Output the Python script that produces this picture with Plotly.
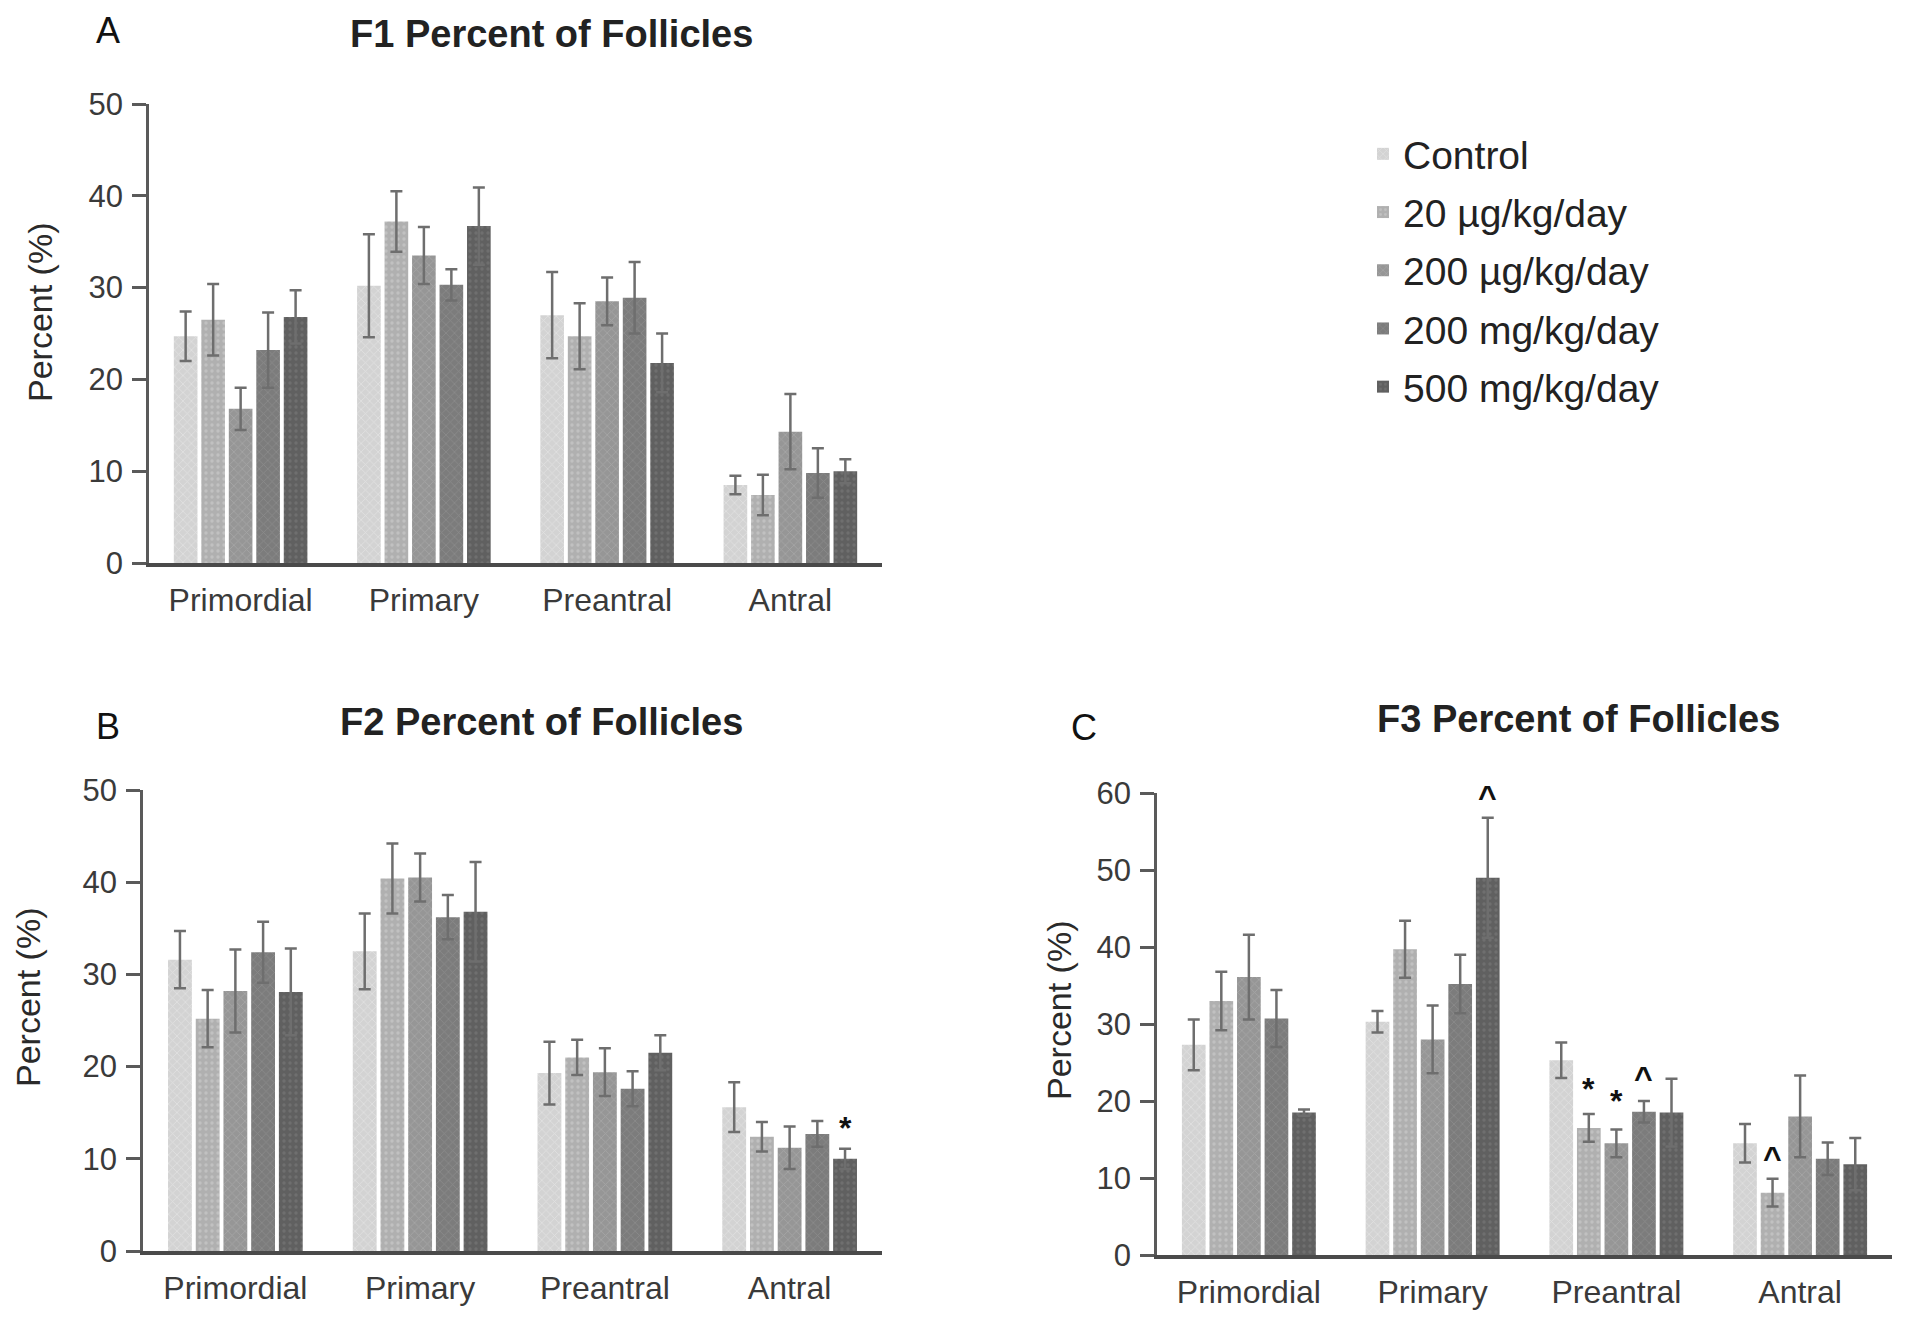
import plotly.graph_objects as go

categories = ["Primordial", "Primary", "Preantral", "Antral"]
groups = ["Control", "20 µg/kg/day", "200 µg/kg/day", "200 mg/kg/day", "500 mg/kg/day"]
colors = ["#d3d3d3", "#b0b0b0", "#969696", "#7c7c7c", "#606060"]
pattern_fg = ["#efefef", "#d2d2d2", "#b6b6b6", "#9a9a9a", "#7e7e7e"]
pattern_shape = ["x", ".", "x", "x", "."]

# F1 (panel A): mean per group for Primordial, Primary, Preantral, Antral
f1_control = [24.7, 30.2, 27.0, 8.5]
f1_20ug = [26.5, 37.2, 24.7, 7.4]
f1_200ug = [16.8, 33.5, 28.5, 14.3]
f1_200mg = [23.2, 30.3, 28.9, 9.8]
f1_500mg = [26.8, 36.7, 21.8, 10.0]
f1_control_err = [2.7, 5.6, 4.7, 1.0]
f1_20ug_err = [3.9, 3.3, 3.6, 2.2]
f1_200ug_err = [2.3, 3.1, 2.6, 4.1]
f1_200mg_err = [4.1, 1.7, 3.9, 2.7]
f1_500mg_err = [2.9, 4.2, 3.2, 1.3]

# F2 (panel B)
f2_control = [31.6, 32.5, 19.3, 15.6]
f2_20ug = [25.2, 40.4, 21.0, 12.4]
f2_200ug = [28.2, 40.5, 19.4, 11.2]
f2_200mg = [32.4, 36.2, 17.6, 12.7]
f2_500mg = [28.1, 36.8, 21.5, 10.0]
f2_control_err = [3.1, 4.1, 3.4, 2.7]
f2_20ug_err = [3.1, 3.8, 1.9, 1.6]
f2_200ug_err = [4.5, 2.6, 2.6, 2.3]
f2_200mg_err = [3.3, 2.4, 1.9, 1.4]
f2_500mg_err = [4.7, 5.4, 1.9, 1.1]

# F3 (panel C)
f3_control = [27.3, 30.3, 25.3, 14.5]
f3_20ug = [33.0, 39.7, 16.5, 8.1]
f3_200ug = [36.1, 28.0, 14.5, 18.0]
f3_200mg = [30.7, 35.2, 18.6, 12.5]
f3_500mg = [18.5, 49.0, 18.5, 11.8]
f3_control_err = [3.3, 1.4, 2.3, 2.5]
f3_20ug_err = [3.8, 3.7, 1.8, 1.8]
f3_200ug_err = [5.5, 4.4, 1.8, 5.3]
f3_200mg_err = [3.7, 3.8, 1.4, 2.1]
f3_500mg_err = [0.4, 7.8, 4.4, 3.4]

# significance marks: (panel, category, group index, symbol, y value)
sig_marks = [
    ("B", "Antral", 4, "*", 13.3),
    ("C", "Primary", 4, "^", 59.5),
    ("C", "Preantral", 1, "*", 21.6),
    ("C", "Preantral", 2, "*", 20.0),
    ("C", "Preantral", 3, "^", 23.0),
    ("C", "Antral", 1, "^", 12.6),
]

panels = {
    "A": dict(means=[f1_control, f1_20ug, f1_200ug, f1_200mg, f1_500mg],
              errs=[f1_control_err, f1_20ug_err, f1_200ug_err, f1_200mg_err, f1_500mg_err],
              xa="x", ya="y", ymax=50, title="F1 Percent of Follicles"),
    "B": dict(means=[f2_control, f2_20ug, f2_200ug, f2_200mg, f2_500mg],
              errs=[f2_control_err, f2_20ug_err, f2_200ug_err, f2_200mg_err, f2_500mg_err],
              xa="x2", ya="y2", ymax=50, title="F2 Percent of Follicles"),
    "C": dict(means=[f3_control, f3_20ug, f3_200ug, f3_200mg, f3_500mg],
              errs=[f3_control_err, f3_20ug_err, f3_200ug_err, f3_200mg_err, f3_500mg_err],
              xa="x3", ya="y3", ymax=60, title="F3 Percent of Follicles"),
}

FONT = "Liberation Sans, Arial, sans-serif"
W, H = 1920, 1320
OFF = 8  # page margin offset of the rendered figure


def px(x):
    return (x - OFF) / W


def py(y):
    return 1 - (y - OFF) / H


BARGAP = 0.25
fig = go.Figure()
for pname, p in panels.items():
    for gi, g in enumerate(groups):
        fig.add_trace(go.Bar(
            x=categories, y=p["means"][gi], name=g,
            xaxis=p["xa"], yaxis=p["ya"],
            offsetgroup=str(gi), legendgroup=g,
            showlegend=(pname == "A"),
            marker=dict(color=colors[gi], line=dict(width=0),
                        pattern=dict(shape=pattern_shape[gi], fgcolor=pattern_fg[gi],
                                     size=6, solidity=0.25)),
            error_y=dict(type="data", array=p["errs"][gi], visible=True,
                         color="#6e6e6e", thickness=2.5, width=6),
        ))

# plot areas in page pixels (left, right, top, bottom)
dom = {"A": (149, 882, 104, 563), "B": (143, 882, 790, 1251), "C": (1157, 1892, 793, 1255)}

axis_common_x = dict(type="category", showline=True, linecolor="#4a4a4a", linewidth=3.5,
                     ticks="", showgrid=False, zeroline=False, automargin=False,
                     tickfont=dict(family=FONT, size=32, color="#3a3a3a"),
                     ticklabelstandoff=6)
axis_common_y = dict(showline=True, linecolor="#5a5a5a", linewidth=2.5, ticks="outside",
                     ticklen=14, tickwidth=2.5, tickcolor="#5a5a5a", showgrid=False,
                     zeroline=False, automargin=False, ticklabelstandoff=3,
                     tickfont=dict(family=FONT, size=31, color="#3a3a3a"))

layout = dict(width=W, height=H, margin=dict(l=0, r=0, t=0, b=0, autoexpand=False),
              paper_bgcolor="white", plot_bgcolor="white",
              barmode="group", bargap=BARGAP, bargroupgap=0.14,
              font=dict(family=FONT, color="#222"),
              legend=dict(x=px(1363), y=py(122), xanchor="left", yanchor="top",
                          font=dict(family=FONT, size=39, color="#222"),
                          tracegroupgap=4.5, itemwidth=30, bgcolor="rgba(0,0,0,0)"))

for pname, p in panels.items():
    l, r, t, b = dom[pname]
    xk = "xaxis" if p["xa"] == "x" else "xaxis" + p["xa"][1:]
    yk = "yaxis" if p["ya"] == "y" else "yaxis" + p["ya"][1:]
    layout[xk] = dict(axis_common_x, domain=[px(l), px(r)], anchor=p["ya"])
    layout[yk] = dict(axis_common_y, domain=[py(b), py(t)], anchor=p["xa"],
                      range=[0, p["ymax"]], dtick=10)

fig.update_layout(**layout)

annotations = []
titles_pos = {"A": (551, 34), "B": (541, 722), "C": (1578, 719)}
letters_pos = {"A": (108, 30), "B": (108, 726), "C": (1084, 727)}
ytitle_pos = {"A": (40, 312), "B": (28, 997), "C": (1059, 1010)}
for pname, p in panels.items():
    tx, ty = titles_pos[pname]
    annotations.append(dict(text="<b>" + p["title"] + "</b>", x=px(tx), y=py(ty),
                            xref="paper", yref="paper", showarrow=False,
                            xanchor="center", yanchor="middle",
                            font=dict(family=FONT, size=38, color="#222")))
    lx, ly = letters_pos[pname]
    annotations.append(dict(text=pname, x=px(lx), y=py(ly), xref="paper", yref="paper",
                            showarrow=False, xanchor="center", yanchor="middle",
                            font=dict(family=FONT, size=36, color="#111")))
    yx, yy = ytitle_pos[pname]
    annotations.append(dict(text="Percent (%)", x=px(yx), y=py(yy), xref="paper",
                            yref="paper", showarrow=False, textangle=-90,
                            xanchor="center", yanchor="middle",
                            font=dict(family=FONT, size=34, color="#2a2a2a")))

for pname, cat, gi, sym, yv in sig_marks:
    p = panels[pname]
    l, r, t, b = dom[pname]
    cat_w = (r - l) / len(categories)
    bar_w = cat_w * (1 - BARGAP) / len(groups)
    annotations.append(dict(text="<b>" + sym + "</b>", x=cat, y=yv,
                            xref=p["xa"], yref=p["ya"], showarrow=False,
                            xshift=(gi - 2) * bar_w, yanchor="middle",
                            font=dict(family=FONT, size=32, color="#111")))

fig.update_layout(annotations=annotations)
fig.write_html("out.html")
